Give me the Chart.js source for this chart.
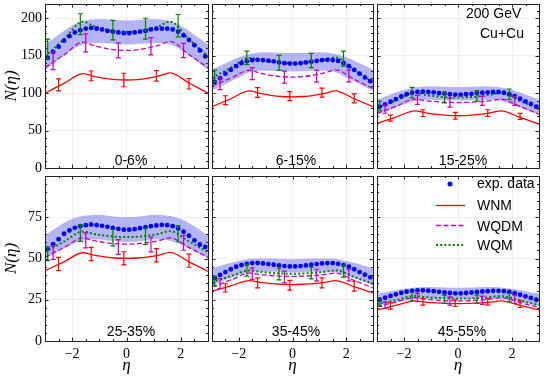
<!DOCTYPE html>
<html>
<head>
<meta charset="utf-8">
<script src="https://cdn.jsdelivr.net/npm/chart.js@4.4.1/dist/chart.umd.min.js"></script>
<style>
  html, body { margin: 0; padding: 0; background: #fff; }
  #wrap { position: relative; width: 544px; height: 377px; overflow: hidden; }
  #wrap canvas { position: absolute; }
  .txt {
    position: absolute;
    font-family: "Liberation Sans", Arial, sans-serif;
    font-size: 14px;
    line-height: 16px;
    color: #000;
    white-space: nowrap;
  }
  .mid { transform: translateX(-50%); }
</style>
</head>
<body>
<div id="wrap">
  <div class="txt" style="left:466px; top:5px;">200 GeV</div>
  <div class="txt" style="left:480px; top:25px;">Cu+Cu</div>

  <div class="txt mid" style="left:131px; top:152px;">0-6%</div>
  <div class="txt mid" style="left:296px; top:152px;">6-15%</div>
  <div class="txt mid" style="left:463px; top:152px;">15-25%</div>
  <div class="txt mid" style="left:131px; top:323px;">25-35%</div>
  <div class="txt mid" style="left:296px; top:323px;">35-45%</div>
  <div class="txt mid" style="left:462px; top:323px;">45-55%</div>

  <svg style="position:absolute; left:430px; top:175px;" width="45" height="80">
    <circle cx="20" cy="9" r="2.5" fill="#0000ff"/>
    <line x1="6" y1="30.5" x2="35" y2="30.5" stroke="#ff0000" stroke-width="1.3"/>
    <line x1="6" y1="50.5" x2="35" y2="50.5" stroke="#c000c0" stroke-width="1.3" stroke-dasharray="5 2.5"/>
    <line x1="6" y1="70" x2="35" y2="70" stroke="#008000" stroke-width="2" stroke-dasharray="2 2.2"/>
  </svg>
  <div class="txt" style="left:477px; top:175px;">exp. data</div>
  <div class="txt" style="left:477px; top:197px;">WNM</div>
  <div class="txt" style="left:477px; top:218px;">WQDM</div>
  <div class="txt" style="left:477px; top:237px;">WQM</div>
</div>

<script>
// ==========================
// DATA
// ==========================
const centralities = ["0-6%", "6-15%", "15-25%", "25-35%", "35-45%", "45-55%"];

// exp. data points
const etaExp = [-2.9, -2.7, -2.5, -2.3, -2.1, -1.9, -1.7, -1.5, -1.3, -1.1, -0.9, -0.7, -0.5, -0.3, -0.1,
                0.1, 0.3, 0.5, 0.7, 0.9, 1.1, 1.3, 1.5, 1.7, 1.9, 2.1, 2.3, 2.5, 2.7, 2.9];
const exp_0_6   = [147, 155, 162, 170, 176, 181, 184, 186, 187, 186, 185, 183, 182, 181, 180,
                   180, 181, 182, 183, 185, 186, 186, 186, 185, 182, 177, 171, 164, 157, 149];
const exp_6_15  = [115, 120, 126, 131, 136, 140, 142.5, 144, 144.5, 144, 143.5, 142.5, 141, 140, 139.5,
                   139.5, 140, 141, 142, 143, 144, 144.5, 144, 143, 140, 136, 131, 126, 121, 116];
const exp_15_25 = [82, 85, 88.5, 92, 95.5, 98.5, 100.5, 101.5, 102, 101.5, 101, 100, 99.5, 98.5, 98,
                   98, 98.5, 99, 100, 100.5, 101, 101.5, 101.5, 100.5, 98.5, 96, 92.5, 89, 85.5, 82];
const exp_25_35 = [56, 58.7, 61.7, 65, 67, 68.6, 69.6, 70.2, 70.6, 70.2, 69.8, 69.2, 68.6, 68, 67.5,
                   67.5, 67.8, 68.4, 69, 69.6, 70, 70.4, 70.2, 69.6, 68.2, 66.2, 63.8, 61, 58.5, 57];
const exp_35_45 = [38.2, 40, 41.8, 43.5, 45, 46, 46.8, 47.2, 47.3, 47, 46.6, 46.2, 45.8, 45.4, 45.2,
                   45.2, 45.4, 45.8, 46.2, 46.6, 47, 47.2, 47.2, 46.8, 46, 45, 43.5, 41.8, 40.2, 38.6];
const exp_45_55 = [25, 26.2, 27.3, 28.3, 29.2, 29.9, 30.4, 30.7, 30.7, 30.5, 30.2, 29.8, 29.4, 29.1, 28.9,
                   28.9, 29.1, 29.4, 29.7, 30, 30.2, 30.4, 30.4, 30.2, 29.7, 29, 28.1, 27.1, 26.1, 25];

// systematic band of the data
const etaBand = [-3, -2.5, -2, -1.5, -1, -0.5, 0, 0.5, 1, 1.5, 2, 2.5, 3];
const bandHi_0_6   = [165, 178, 190, 197, 198.5, 198, 197, 198, 198.5, 197, 190, 178, 165];
const bandLo_0_6   = [131, 145, 158, 166, 167, 166, 165, 166, 167, 166, 158, 145, 131];
const bandHi_6_15  = [131.5, 140, 148, 153, 154.5, 154, 153.5, 154, 154.5, 153, 148, 140, 131.5];
const bandLo_6_15  = [103, 112, 121, 129, 130, 129.5, 129, 129.5, 130, 129, 121, 112, 103];
const bandHi_15_25 = [91, 98, 104, 108, 109, 108.5, 108, 108.5, 109, 108, 104, 98, 91];
const bandLo_15_25 = [71, 78, 85, 90, 91, 90.5, 90, 90.5, 91, 90, 85, 78, 71];
const bandHi_25_35 = [64, 69.5, 74, 76, 76.5, 75.5, 75, 75.5, 76.5, 76, 74, 69.5, 64];
const bandLo_25_35 = [50, 54.5, 58.5, 61, 61.5, 60.5, 60, 60.5, 61.5, 61, 58.5, 54.5, 50];
const bandHi_35_45 = [44, 46.5, 48.5, 50, 50, 49.8, 49.5, 49.8, 50, 50, 48.5, 46.5, 44];
const bandLo_35_45 = [33.6, 37, 40, 42, 42, 41.8, 41.5, 41.8, 42, 42, 40, 37, 33.6];
const bandHi_45_55 = [28.8, 30.2, 31.6, 32.6, 32.8, 32.5, 32.3, 32.5, 32.8, 32.6, 31.6, 30.2, 28.8];
const bandLo_45_55 = [21.3, 23, 24.5, 25.5, 25.8, 25.5, 25.3, 25.5, 25.8, 25.5, 24.5, 23, 21.3];

// model curves
const etaModel = [-3, -2.3, -1.6, -1.2, -0.8, -0.4, 0, 0.4, 0.8, 1.2, 1.6, 2.3, 3];
const wnm_0_6    = [100, 113, 126, 122.5, 119.7, 118, 117.5, 118, 120, 123, 127, 113.5, 100];
const wqdm_0_6   = [134, 151, 168, 163.5, 160, 157.7, 157, 157.8, 160.5, 164, 169, 151.5, 134];
const wqm_0_6    = [149, 172, 195.5, 189.5, 185.4, 182.8, 182, 182.8, 185.4, 189.5, 195.5, 172, 149];
const wnm_6_15   = [82, 92.5, 103, 99.5, 97, 95.5, 95, 95.5, 97, 99.5, 103, 92.5, 82];
const wqdm_6_15  = [109.5, 120, 130.5, 126.5, 123.7, 122, 121.4, 122, 124, 127, 131, 118.5, 106];
const wqm_6_15   = [120.5, 134, 147, 144, 142, 140.8, 140.4, 140.8, 142.2, 144.5, 147.5, 131, 114];
const wnm_15_25  = [59.6, 68, 76.4, 73.5, 71.5, 70.2, 69.8, 70.2, 71.5, 73.5, 76.4, 67.5, 58.7];
const wqdm_15_25 = [72.8, 82.3, 91.8, 89.9, 88.5, 87.7, 87.4, 87.7, 88.5, 89.9, 91.8, 82, 72];
const wqm_15_25  = [80, 90.3, 100.7, 97.8, 95.7, 94.4, 94, 94.4, 95.7, 97.8, 100.7, 89.7, 78.6];
const wnm_25_35  = [42.6, 48, 53.5, 52, 51, 50.3, 50.1, 50.3, 51, 52.1, 53.7, 48, 42.2];
const wqdm_25_35 = [50.7, 56.6, 62.5, 60.8, 59.7, 59, 58.7, 59, 59.7, 60.8, 62.5, 56.6, 50.7];
const wqm_25_35  = [54, 60.2, 66.4, 64.9, 63.9, 63.2, 63, 63.2, 63.9, 65, 66.6, 60.3, 54];
const wnm_35_45  = [30.2, 33.4, 36.6, 35.5, 34.8, 34.4, 34.2, 34.4, 34.8, 35.5, 36.6, 32.9, 29.2];
const wqdm_35_45 = [32.8, 37, 41.2, 40.3, 39.7, 39.3, 39.2, 39.3, 39.7, 40.3, 41.2, 36.7, 32.2];
const wqm_35_45  = [35.8, 39.3, 42.8, 41.9, 41.3, 40.9, 40.8, 40.9, 41.3, 41.9, 42.8, 38.8, 34.8];
const wnm_45_55  = [18.9, 21.6, 24.3, 23.6, 23.1, 22.8, 22.7, 22.8, 23.1, 23.6, 24.3, 21.6, 18.9];
const wqdm_45_55 = [20.9, 23.6, 26.3, 25.4, 24.8, 24.4, 24.3, 24.4, 24.8, 25.4, 26.3, 23.3, 20.3];
const wqm_45_55  = [22.3, 24.8, 27.3, 26.6, 26.1, 25.8, 25.7, 25.8, 26.1, 26.6, 27.3, 24.5, 21.7];

// model error bars: [value, half size]
const etaErrWNM  = [-2.5, -1.3, -0.1, 1.1, 2.3];
const etaErrWQDM = [-2.7, -1.5, -0.3, 0.9, 2.1];
const etaErrWQM  = [-2.9, -1.7, -0.5, 0.7, 1.9];
const errWNM_0_6    = [[111, 8], [123, 6.5], [117.5, 9], [123, 7], [112.5, 7]];
const errWQDM_0_6   = [[143.5, 12], [167, 12], [157, 10], [162.5, 11.5], [157, 9.5]];
const errWQM_0_6    = [[159, 13], [192, 14], [184, 13], [186, 14], [190, 15]];
const errWNM_6_15   = [[90.5, 6], [100.7, 6.5], [96, 6], [100.7, 6], [93, 6]];
const errWQDM_6_15  = [[112.6, 8], [126, 8], [121.4, 8], [122.7, 8], [123, 8]];
const errWQM_6_15   = [[122.7, 8], [147, 9], [140.4, 10], [143.5, 9.5], [146, 10]];
const errWNM_15_25  = [[66.7, 4], [73.3, 4.5], [69.8, 4.5], [73.3, 4.5], [68.9, 4]];
const errWQDM_15_25 = [[78.6, 5.5], [91, 6], [87.4, 6], [89.6, 6], [89.6, 6]];
const errWQM_15_25  = [[83, 6.5], [100.7, 7], [94, 7], [96.2, 7], [98.5, 7]];
const errWNM_25_35  = [[46.7, 4], [52.7, 4], [50.1, 4], [52, 4], [48.7, 4]];
const errWQDM_25_35 = [[53.5, 4], [61, 4.5], [57, 4.5], [58.5, 4.5], [59.5, 4.5]];
const errWQM_25_35  = [[52.7, 4], [65.4, 5], [62.7, 5], [63.5, 5], [65, 5]];
const errWNM_35_45  = [[32.2, 2.5], [35.2, 3], [33.8, 3], [35.2, 3], [33.2, 3]];
const errWQDM_35_45 = [[34.8, 3], [40.8, 3.5], [38.8, 3.5], [40, 3.5], [40, 3.5]];
const errWQM_35_45  = [[36.2, 3], [42.8, 3.5], [40.6, 3.5], [41.2, 3.5], [42.2, 3.5]];
const errWNM_45_55  = [[21.3, 2], [23.7, 2], [22.9, 2], [23.7, 2], [22.3, 2]];
const errWQDM_45_55 = [[21.7, 2], [26.3, 2.5], [24.3, 2.5], [24.7, 2.5], [25.3, 2.5]];
const errWQM_45_55  = [[22.9, 2], [26.9, 2.5], [25.3, 2.5], [25.3, 2.5], [26.3, 2.5]];

// ticks
const xTickVals = [-2, 0, 2];
const xMinorVals = [-2.5, -1.5, -1, -0.5, 0.5, 1, 1.5, 2.5];
const yTickValsTop = [0, 50, 100, 150, 200];
const yTickValsBottom = [0, 25, 50, 75];
const yMaxRow = [219, 100];
const yMinorStepRow = [10, 5];

// ==========================
// LAYOUT (pixels)
// ==========================
const colLeft = [45, 210, 375];
const colRight = [210, 375, 541];
const rowTop = [2, 174];
const rowBottom = [168, 341];

const COLORS = {
  exp: "#0000ff",
  band: "rgba(70, 70, 230, 0.40)",
  wnm: "#ff0000",
  wqdm: "#c000c0",
  wqm: "#008000",
  grid: "rgba(0, 0, 0, 0.08)",
  frame: "#222",
};

const panels = [
  { exp: exp_0_6, hi: bandHi_0_6, lo: bandLo_0_6, wnm: wnm_0_6, wqdm: wqdm_0_6, wqm: wqm_0_6,
    eWnm: errWNM_0_6, eWqdm: errWQDM_0_6, eWqm: errWQM_0_6 },
  { exp: exp_6_15, hi: bandHi_6_15, lo: bandLo_6_15, wnm: wnm_6_15, wqdm: wqdm_6_15, wqm: wqm_6_15,
    eWnm: errWNM_6_15, eWqdm: errWQDM_6_15, eWqm: errWQM_6_15 },
  { exp: exp_15_25, hi: bandHi_15_25, lo: bandLo_15_25, wnm: wnm_15_25, wqdm: wqdm_15_25, wqm: wqm_15_25,
    eWnm: errWNM_15_25, eWqdm: errWQDM_15_25, eWqm: errWQM_15_25 },
  { exp: exp_25_35, hi: bandHi_25_35, lo: bandLo_25_35, wnm: wnm_25_35, wqdm: wqdm_25_35, wqm: wqm_25_35,
    eWnm: errWNM_25_35, eWqdm: errWQDM_25_35, eWqm: errWQM_25_35 },
  { exp: exp_35_45, hi: bandHi_35_45, lo: bandLo_35_45, wnm: wnm_35_45, wqdm: wqdm_35_45, wqm: wqm_35_45,
    eWnm: errWNM_35_45, eWqdm: errWQDM_35_45, eWqm: errWQM_35_45 },
  { exp: exp_45_55, hi: bandHi_45_55, lo: bandLo_45_55, wnm: wnm_45_55, wqdm: wqdm_45_55, wqm: wqm_45_55,
    eWnm: errWNM_45_55, eWqdm: errWQDM_45_55, eWqm: errWQM_45_55 },
];

const pts = (xs, ys) => xs.map((x, i) => ({ x, y: ys[i] }));

// ==========================
// PLUGINS: error bars + frame with inward ticks
// ==========================
function makeErrorBars(sets) {
  return {
    id: "errorBars",
    afterDatasetsDraw(chart) {
      const { ctx } = chart;
      const xs = chart.scales.x, ys = chart.scales.y;
      ctx.save();
      ctx.lineWidth = 1.2;
      sets.forEach(set => {
        ctx.strokeStyle = set.color;
        set.eta.forEach((eta, i) => {
          const [val, err] = set.vals[i];
          const px = xs.getPixelForValue(eta);
          const y1 = ys.getPixelForValue(val - err);
          const y2 = ys.getPixelForValue(val + err);
          ctx.beginPath();
          ctx.moveTo(px, y1); ctx.lineTo(px, y2);
          ctx.moveTo(px - 2.5, y1); ctx.lineTo(px + 2.5, y1);
          ctx.moveTo(px - 2.5, y2); ctx.lineTo(px + 2.5, y2);
          ctx.stroke();
        });
      });
      ctx.restore();
    },
  };
}

function makeFrame(yMajor, yMinor) {
  return {
    id: "frameTicks",
    afterDraw(chart) {
      const { ctx, chartArea: a } = chart;
      const xs = chart.scales.x, ys = chart.scales.y;
      ctx.save();
      ctx.strokeStyle = COLORS.frame;
      ctx.lineWidth = 1;
      ctx.beginPath();
      const xTick = (v, len) => {
        const px = Math.round(xs.getPixelForValue(v)) + 0.5;
        ctx.moveTo(px, a.bottom); ctx.lineTo(px, a.bottom - len);
        ctx.moveTo(px, a.top); ctx.lineTo(px, a.top + len);
      };
      const yTick = (v, len) => {
        const py = Math.round(ys.getPixelForValue(v)) + 0.5;
        ctx.moveTo(a.left, py); ctx.lineTo(a.left + len, py);
        ctx.moveTo(a.right, py); ctx.lineTo(a.right - len, py);
      };
      xTickVals.forEach(v => xTick(v, 3.5));
      xMinorVals.forEach(v => xTick(v, 2));
      yMajor.forEach(v => yTick(v, 3.5));
      yMinor.forEach(v => yTick(v, 2));
      ctx.stroke();
      ctx.strokeRect(a.left + 0.5, a.top + 0.5, a.right - a.left, a.bottom - a.top);
      ctx.restore();
    },
  };
}

// ==========================
// BUILD ONE PANEL
// ==========================
function createPanel(i) {
  const r = Math.floor(i / 3), c = i % 3;
  const p = panels[i];

  const padL = c === 0 ? 0 : 2;
  const padT = 2, padR = 2;
  const padB = r === 1 ? 0 : 8;
  const yAxisW = c === 0 ? 45 : 0;
  const xAxisH = r === 1 ? 36 : 0;
  const left = c === 0 ? 0 : colLeft[c] - padL;
  const top = rowTop[r] - padT;
  const width = colRight[c] + padR - left;
  const height = r === 1 ? 377 - top : rowBottom[r] + padB - top;

  const canvas = document.createElement("canvas");
  canvas.width = width;
  canvas.height = height;
  canvas.style.left = left + "px";
  canvas.style.top = top + "px";
  canvas.style.width = width + "px";
  canvas.style.height = height + "px";
  const wrap = document.getElementById("wrap");
  wrap.insertBefore(canvas, wrap.firstChild);

  const yMax = yMaxRow[r];
  const yMajor = r === 0 ? yTickValsTop : yTickValsBottom;
  const yMinor = [];
  for (let v = yMinorStepRow[r]; v < yMax; v += yMinorStepRow[r]) {
    if (!yMajor.includes(v)) yMinor.push(v);
  }

  const tickFont = { family: '"Liberation Serif", "DejaVu Serif", serif', size: 14 };
  const titleFont = { family: '"Liberation Serif", "DejaVu Serif", serif', size: 17, style: "italic" };

  const lineDs = (label, data, color, extra) => Object.assign({
    label,
    data: pts(etaModel, data),
    showLine: true,
    borderColor: color,
    borderWidth: 1.3,
    pointRadius: 0,
    fill: false,
    cubicInterpolationMode: "monotone",
  }, extra);

  const datasets = [
    {
      label: "exp. data",
      data: pts(etaExp, p.exp),
      showLine: false,
      pointRadius: 2.4,
      pointBackgroundColor: COLORS.exp,
      pointBorderWidth: 0,
      order: 0,
    },
    lineDs("WQM", p.wqm, COLORS.wqm, { borderWidth: 2, borderDash: [2, 2.2], order: 1 }),
    lineDs("WQDM", p.wqdm, COLORS.wqdm, { borderDash: [5, 2.5], order: 2 }),
    lineDs("WNM", p.wnm, COLORS.wnm, { order: 3 }),
    {
      label: "band hi",
      data: pts(etaBand, p.hi),
      showLine: true,
      borderWidth: 0,
      borderColor: "rgba(0,0,0,0)",
      pointRadius: 0,
      backgroundColor: COLORS.band,
      fill: "+1",
      cubicInterpolationMode: "monotone",
      order: 4,
    },
    {
      label: "band lo",
      data: pts(etaBand, p.lo),
      showLine: true,
      borderWidth: 0,
      borderColor: "rgba(0,0,0,0)",
      pointRadius: 0,
      fill: false,
      cubicInterpolationMode: "monotone",
      order: 5,
    },
  ];

  const errSets = [
    { eta: etaErrWNM, vals: p.eWnm, color: COLORS.wnm },
    { eta: etaErrWQDM, vals: p.eWqdm, color: COLORS.wqdm },
    { eta: etaErrWQM, vals: p.eWqm, color: COLORS.wqm },
  ];

  new Chart(canvas.getContext("2d"), {
    type: "scatter",
    data: { datasets },
    options: {
      responsive: false,
      animation: false,
      devicePixelRatio: 1,
      events: [],
      layout: { padding: { left: padL, top: padT, right: padR, bottom: padB } },
      plugins: { legend: { display: false }, tooltip: { enabled: false } },
      scales: {
        x: {
          type: "linear",
          min: -3,
          max: 3,
          afterBuildTicks: s => { s.ticks = xTickVals.map(v => ({ value: v })); },
          afterFit: s => { s.height = xAxisH; s.paddingLeft = 0; s.paddingRight = 0; },
          ticks: {
            display: r === 1,
            font: tickFont,
            color: "#000",
            padding: 5,
            maxRotation: 0,
            autoSkip: false,
            callback: v => (v < 0 ? "\u2212" + Math.abs(v) : String(v)),
          },
          grid: { color: COLORS.grid, lineWidth: 0.8, drawTicks: false },
          border: { display: false },
          title: { display: r === 1, text: "\u03b7", font: titleFont, color: "#000", padding: { top: 0, bottom: 1 } },
        },
        y: {
          type: "linear",
          min: 0,
          max: yMax,
          afterBuildTicks: s => { s.ticks = yMajor.map(v => ({ value: v })); },
          afterFit: s => { s.width = yAxisW; s.paddingTop = 0; s.paddingBottom = 0; },
          ticks: { display: c === 0, font: tickFont, color: "#000", padding: 3, autoSkip: false },
          grid: { color: COLORS.grid, lineWidth: 0.8, drawTicks: false },
          border: { display: false },
          title: { display: c === 0, text: "N(\u03b7)", font: titleFont, color: "#000", padding: { top: 1, bottom: 0 } },
        },
      },
    },
    plugins: [makeErrorBars(errSets), makeFrame(yMajor, yMinor)],
  });
}

// --- MAIN ---
for (let i = centralities.length - 1; i >= 0; i--) createPanel(i);
</script>
</body>
</html>
